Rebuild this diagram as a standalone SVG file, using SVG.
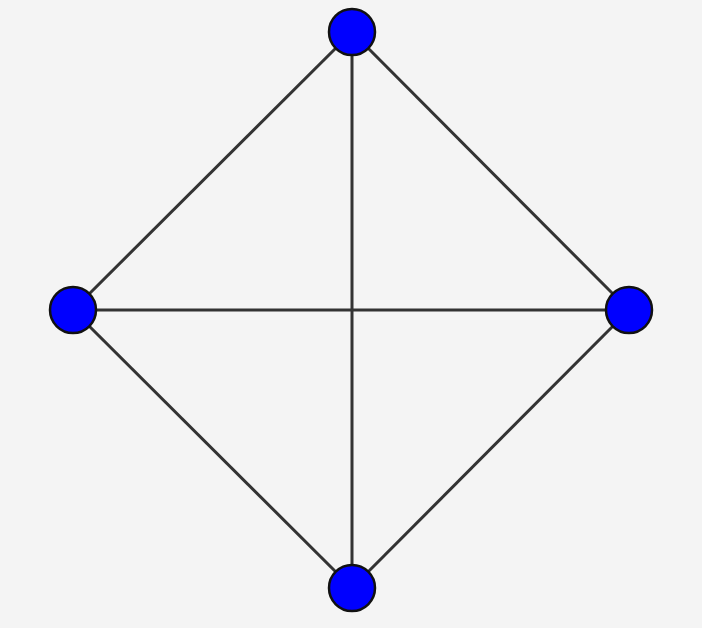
<svg xmlns="http://www.w3.org/2000/svg" width="702" height="628" viewBox="0 0 702 628">
<style>
.edge{stroke:#333333;stroke-width:3;fill:none}
.node{fill:#0000ff;stroke:#111111;stroke-width:2.5}
</style>
<rect width="702" height="628" fill="#f4f4f4"/>
<g id="edges">
<line class="edge" x1="352" y1="32" x2="73" y2="310"/>
<line class="edge" x1="352" y1="32" x2="629" y2="310"/>
<line class="edge" x1="352" y1="32" x2="352" y2="588"/>
<line class="edge" x1="73" y1="310" x2="629" y2="310"/>
<line class="edge" x1="73" y1="310" x2="352" y2="588"/>
<line class="edge" x1="629" y1="310" x2="352" y2="588"/>
</g>
<g id="n-top"><circle class="node" cx="352" cy="32" r="23"/></g>
<g id="n-left"><circle class="node" cx="73" cy="310" r="23"/></g>
<g id="n-right"><circle class="node" cx="629" cy="310" r="23"/></g>
<g id="n-bottom"><circle class="node" cx="352" cy="588" r="23"/></g>
</svg>
